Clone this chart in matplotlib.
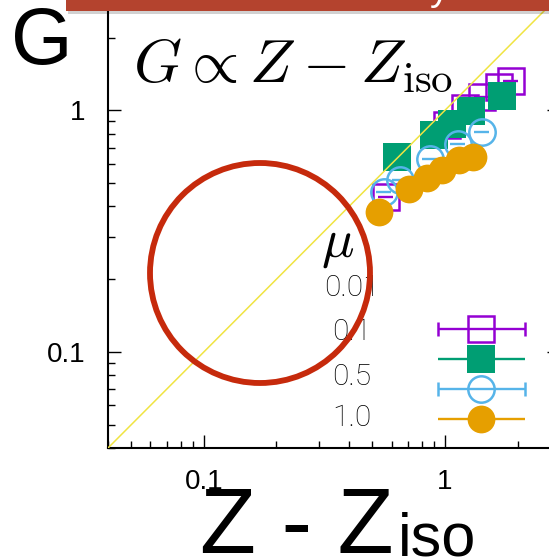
import numpy as np
import matplotlib
matplotlib.use('Agg')
import matplotlib.pyplot as plt
from matplotlib.patches import Ellipse, Rectangle
from matplotlib.legend_handler import HandlerErrorbar
from matplotlib.container import ErrorbarContainer

plt.rcParams['font.family'] = ['Liberation Sans', 'DejaVu Sans']
plt.rcParams['mathtext.fontset'] = 'cm'

# series, one per mu
mu_labels = ['0.01', '0.1', '0.5', '1.0']
colors = ['#9400d3', '#009e73', '#56b4e9', '#e69f00']
markers = ['s', 's', 'o', 'o']
filled = [False, True, False, True]

z_001 = [0.569, 1.019, 1.21, 1.425, 1.675, 1.878]
g_001 = [0.437, 0.867, 1.019, 1.131, 1.245, 1.318]
z_01 = [0.632, 0.900, 1.069, 1.281, 1.725]
g_01 = [0.639, 0.788, 0.875, 0.990, 1.142]
z_05 = [0.558, 0.651, 0.867, 1.132, 1.425]
g_05 = [0.458, 0.514, 0.628, 0.724, 0.811]
z_10 = [0.532, 0.709, 0.842, 0.972, 1.143, 1.307]
g_10 = [0.379, 0.472, 0.524, 0.565, 0.621, 0.639]
rel_err = 0.07

zs = [z_001, z_01, z_05, z_10]
gs = [g_001, g_01, g_05, g_10]

lims = (0.04, 3.0)

W, H = 549, 559
fig = plt.figure(figsize=(W / 100, H / 100), dpi=100)
ax = fig.add_axes([108 / W, 1 - 448 / H, 452 / W, 453 / H])
ax.set_xscale('log')
ax.set_yscale('log')
ax.set_xlim(lims)
ax.set_ylim(lims)

proxies = []
for z, g, c, m, f in zip(zs, gs, colors, markers, filled):
    z = np.array(z)
    style = dict(fmt=m, color=c, ecolor=c, elinewidth=1.7,
                 markersize=20 if f else 19,
                 markerfacecolor=c if f else 'none',
                 markeredgecolor=c, markeredgewidth=0 if f else 1.8)
    ax.errorbar(z, g, xerr=rel_err * z, capsize=0, **style)
    # key-only copy with caps, used by the legend
    proxies.append(ax.errorbar([np.nan], [np.nan], xerr=[np.nan],
                               capsize=4.7, capthick=1.5, **style))

# G = Z guide line
ax.plot(lims, lims, color='#f0e442', lw=1.1, zorder=5)

ax.tick_params(which='both', direction='in', top=True, right=True,
               labelsize=20, width=1.0)
ax.tick_params(which='major', length=9.6, pad=15)
ax.tick_params(which='minor', length=4.8)
ax.tick_params(axis='y', pad=16)
for s in ax.spines.values():
    s.set_linewidth(1.5)
fmt = matplotlib.ticker.FuncFormatter(lambda v, p: f'{v:g}')
ax.xaxis.set_major_formatter(fmt)
ax.yaxis.set_major_formatter(fmt)
ax.xaxis.set_minor_formatter(matplotlib.ticker.NullFormatter())
ax.yaxis.set_minor_formatter(matplotlib.ticker.NullFormatter())

# axis titles; the subscript sits just after the main part
zt = fig.text(200 / W, 1 - 553 / H, 'Z - Z', fontsize=66, ha='left', va='baseline')
fig.canvas.draw()
x_end = zt.get_window_extent().x1
fig.text((x_end + 4) / W, 1 - 556 / H, 'iso', fontsize=44, ha='left', va='baseline')
ax.set_ylabel('G', fontsize=57, rotation=0, ha='center', va='center')
ax.yaxis.set_label_coords(-0.146, 0.893)

ax.text(0.055, 0.809, r'$G \propto Z - Z_{\rm iso}$', transform=ax.transAxes,
        fontsize=44, va='baseline', ha='left', math_fontfamily='cm')

# legend keys on the right, value column set separately
leg = ax.legend(proxies, [''] * 4, loc='upper left', bbox_to_anchor=(0.728, 0.277),
                frameon=False, fontsize=12, handlelength=5.3, handletextpad=0,
                borderpad=0, borderaxespad=0, labelspacing=0.9, numpoints=1,
                handler_map={ErrorbarContainer: HandlerErrorbar(xerr_size=2.6)})

fig.text(338 / W, 1 - 245 / H, r'$\mu$', fontsize=39, ha='center', va='center',
         math_fontfamily='cm')
for lab, ypix in zip(mu_labels, [288, 332, 377, 418]):
    fig.text(352 / W, 1 - ypix / H, lab, fontsize=21.5, ha='center', va='center',
             family='Roboto', weight='light')

# red circle drawn over the plot
fig.add_artist(Ellipse((260 / W, 1 - 273 / H), 220 / W, 220 / H,
                       transform=fig.transFigure, fill=False, ec='#c62a0c', lw=4.2,
                       zorder=20))

# slide banner along the top edge
fig.add_artist(Rectangle((68 / W, 1 - 14 / H), 481 / W, 14 / H,
                         transform=fig.transFigure, fc='#000000', alpha=0.18,
                         ec='none', zorder=29))
fig.add_artist(Rectangle((66 / W, 1 - 11 / H), 483 / W, 11 / H,
                         transform=fig.transFigure, fc='#b4432e', ec='none', zorder=30))
fig.text(440 / W, 1.0, 'y', color='white', fontsize=28, ha='center', va='baseline',
         zorder=31)

fig.savefig('out.png', dpi=100)
